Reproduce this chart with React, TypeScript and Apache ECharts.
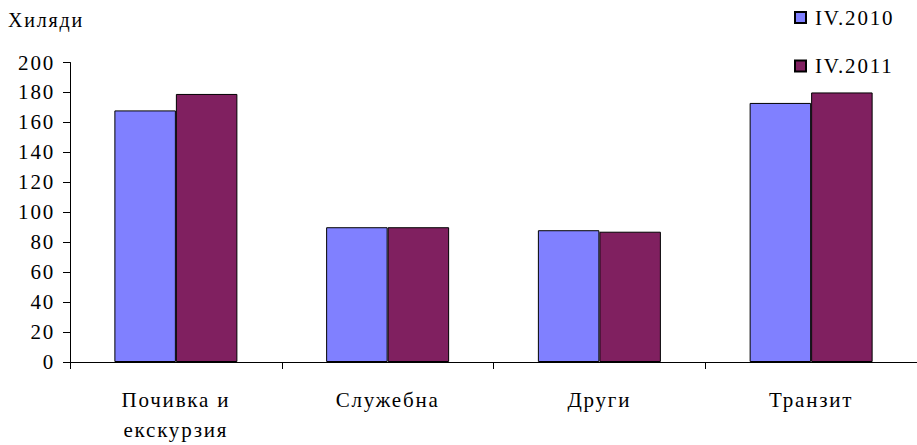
import React, { useEffect, useRef } from "react";
import * as echarts from "echarts";

const categories = ["Почивка и\nекскурзия", "Служебна", "Други", "Транзит"];
const series2010 = [168, 90, 88, 173];
const series2011 = [179, 90, 87, 180];
const seriesNames = ["IV.2010", "IV.2011"];
const unitLabel = "Хиляди";

const FONT = "Liberation Serif, Times New Roman, serif";

export default function App() {
  const ref = useRef<HTMLDivElement>(null);
  useEffect(() => {
    document.body.style.margin = "0";
    const chart = echarts.init(ref.current!, null, { renderer: "svg" });
    const spaceText = () => {
      const el = ref.current;
      if (!el) return;
      el.querySelectorAll("text").forEach((t) => {
        t.setAttribute("letter-spacing", "1.8");
      });
    };
    chart.on("finished", spaceText);
    const legendBase = {
      left: 794,
      padding: 0,
      itemWidth: 11,
      itemHeight: 11,
      icon: "rect",
      textStyle: { fontFamily: FONT, fontSize: 21, color: "#000", padding: [0, 0, 0, 4] },
    };
    chart.setOption({
      animation: false,
      backgroundColor: "#ffffff",
      textStyle: { fontFamily: FONT, color: "#000" },
      grid: { left: 70, top: 62.5, width: 856, height: 304.5, containLabel: false },
      legend: [
        { ...legendBase, data: [seriesNames[0]], top: 7 },
        { ...legendBase, data: [seriesNames[1]], top: 55.5 },
      ],
      graphic: [
        {
          type: "text",
          left: 8,
          top: 10,
          style: { text: unitLabel, fontFamily: FONT, fontSize: 20, fill: "#000" },
        },
      ],
      xAxis: {
        type: "category",
        data: categories,
        axisLine: { lineStyle: { color: "#000", width: 1 } },
        axisTick: { show: true, length: 7, lineStyle: { color: "#000" } },
        axisLabel: {
          fontFamily: FONT,
          fontSize: 21,
          color: "#000",
          lineHeight: 30,
          margin: 23,
          interval: 0,
        },
      },
      yAxis: {
        type: "value",
        min: 0,
        max: 200,
        interval: 20,
        splitLine: { show: false },
        axisLine: { show: true, lineStyle: { color: "#000", width: 1 } },
        axisTick: { show: true, length: 7, lineStyle: { color: "#000" } },
        axisLabel: { fontFamily: FONT, fontSize: 21, color: "#000", margin: 15 },
      },
      series: [
        {
          name: seriesNames[0],
          type: "bar",
          data: series2010,
          barWidth: 61.5,
          barGap: "0%",
          itemStyle: { color: "#8080FF", borderColor: "#000", borderWidth: 1 },
        },
        {
          name: seriesNames[1],
          type: "bar",
          data: series2011,
          barWidth: 61.5,
          barGap: "0%",
          itemStyle: { color: "#802060", borderColor: "#000", borderWidth: 1 },
        },
      ],
    });
    spaceText();
    const timer = setTimeout(spaceText, 50);
    return () => {
      clearTimeout(timer);
      chart.dispose();
    };
  }, []);
  return <div ref={ref} style={{ width: 917, height: 445 }} />;
}
